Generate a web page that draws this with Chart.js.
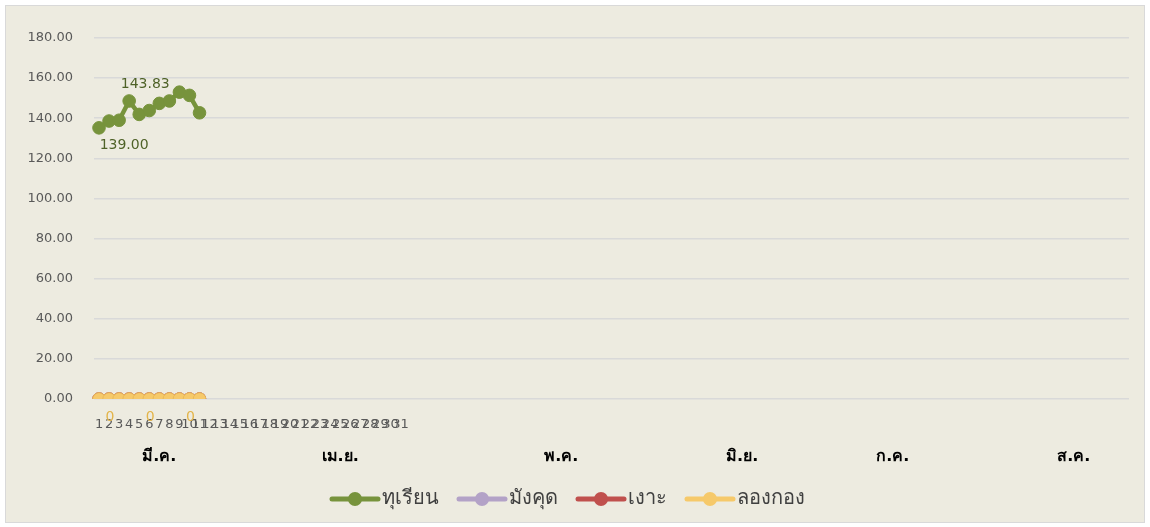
<!DOCTYPE html>
<html>
<head>
<meta charset="utf-8">
<script src="https://cdn.jsdelivr.net/npm/chart.js@4.4.1/dist/chart.umd.min.js"></script>
<style>
  html, body { margin: 0; padding: 0; background: #ffffff; }
  #box {
    position: absolute; left: 5px; top: 5px;
    width: 1138px; height: 516px;
    background: #edebe0; border: 1px solid #d9d9d9;
  }
  #chart01 { display: block; }
</style>
</head>
<body>
<div id="box"><canvas id="chart01" width="1138" height="516"></canvas></div>
<script>
// データ
var totalSlots = 103; // 横軸のカテゴリ数
var dayTicks = ['1','2','3','4','5','6','7','8','9','10','11','12','13','14','15','16',
  '17','18','19','20','21','22','23','24','25','26','27','28','29','30','31'];
var monthTicks = ['มี.ค.', 'เม.ย.', 'พ.ค.', 'มิ.ย.', 'ก.ค.', 'ส.ค.'];
var monthSlots = [6, 24, 46, 64, 79, 97]; // 月ラベルのカテゴリ位置

var seriesNames = ['ทุเรียน', 'มังคุด', 'เงาะ', 'ลองกอง'];
var durian    = [135.2, 138.6, 139.00, 148.6, 141.9, 143.83, 147.4, 148.6, 153.0, 151.4, 142.7];
var mangosteen = [0, 0, 0, 0, 0, 0, 0, 0, 0, 0, 0];
var rambutan   = [0, 0, 0, 0, 0, 0, 0, 0, 0, 0, 0];
var longkong   = [0, 0, 0, 0, 0, 0, 0, 0, 0, 0, 0];
var durianLabelAt = [2, 5];
var longkongLabelAt = [1, 5, 9];

var colors = ['#77933c', '#b3a2c7', '#c0504d', '#f6c96a'];
var fontFamily = '"DejaVu Sans", Tahoma, sans-serif';

var labels = [];
for (var i = 0; i < totalSlots; i++) {
  labels.push(dayTicks[i] || '');
}

// 凡例のマーカー（線＋丸）
var markerW = 42; // 凡例の箱の幅
var markerExtra = 9; // テキストとの隙間を詰める分
function legendMarker(color) {
  var c = document.createElement('canvas');
  c.width = markerW + markerExtra * 2; c.height = 16;
  var g = c.getContext('2d');
  var x0 = markerExtra, x1 = markerW + markerExtra * 2 - 1;
  g.strokeStyle = color; g.lineWidth = 5; g.lineCap = 'round';
  g.beginPath(); g.moveTo(x0 + 2, 8); g.lineTo(x1 - 2, 8); g.stroke();
  g.fillStyle = color;
  g.beginPath(); g.arc((x0 + x1) / 2, 8, 7, 0, Math.PI * 2); g.fill();
  return c;
}

// 値ラベルを描く
Chart.register({
  id: 'valueLabels',
  afterDatasetsDraw: function (chart) {
    var ctx = chart.ctx;
    ctx.save();
    ctx.font = '14px ' + fontFamily;
    ctx.textAlign = 'center';
    ctx.textBaseline = 'middle';
    var m0 = chart.getDatasetMeta(0);
    ctx.fillStyle = '#4f6228';
    durianLabelAt.forEach(function (idx) {
      var p = m0.data[idx];
      var txt = durian[idx].toFixed(2);
      if (idx === 5) {
        ctx.fillText(txt, p.x - 4, p.y - 26);
      } else {
        ctx.fillText(txt, p.x + 5, p.y + 25);
      }
    });
    var m3 = chart.getDatasetMeta(3);
    ctx.fillStyle = '#e3b449';
    longkongLabelAt.forEach(function (idx) {
      var p = m3.data[idx];
      ctx.fillText(String(longkong[idx]), p.x + 1, p.y + 18);
    });
    ctx.restore();
  }
});

function makeSet(i, data, order) {
  return {
    label: seriesNames[i],
    data: data,
    borderColor: colors[i],
    backgroundColor: colors[i],
    pointBackgroundColor: colors[i],
    pointBorderColor: i === 3 ? '#e8b85a' : colors[i],
    pointBorderWidth: 1,
    pointRadius: 6.3,
    pointHoverRadius: 6.3,
    borderWidth: 4.5,
    tension: 0,
    order: order,
    pointStyle: 'circle'
  };
}

var legendImgs = colors.map(legendMarker);

var ctx = document.getElementById('chart01');
var chart = new Chart(ctx, {
  type: 'line',
  data: {
    labels: labels,
    datasets: [
      makeSet(0, durian, 0),
      makeSet(1, mangosteen, 3),
      makeSet(2, rambutan, 2),
      makeSet(3, longkong, 1)
    ]
  },
  options: {
    responsive: false,
    animation: false,
    layout: { padding: { top: 32, right: 15, left: 0, bottom: 3 } },
    plugins: {
      tooltip: { enabled: false },
      legend: {
        position: 'bottom',
        labels: {
          usePointStyle: true,
          pointStyleWidth: markerW,
          boxHeight: 16,
          padding: 18,
          color: '#404040',
          font: { size: 20, family: fontFamily },
          generateLabels: function (chart) {
            return chart.data.datasets.map(function (ds, i) {
              return {
                text: ds.label,
                pointStyle: legendImgs[i],
                fillStyle: colors[i],
                strokeStyle: colors[i],
                lineWidth: 0,
                fontColor: '#404040',
                hidden: false,
                datasetIndex: i
              };
            });
          }
        }
      }
    },
    scales: {
      x: {
        type: 'category',
        offset: true,
        grid: { display: false, drawTicks: false },
        border: { display: false },
        ticks: {
          autoSkip: false, maxRotation: 0, minRotation: 0,
          padding: 18,
          color: '#595959',
          font: { size: 13, family: fontFamily }
        },
        afterFit: function (s) { s.height = 40; }
      },
      x2: {
        type: 'category',
        labels: labels,
        offset: true,
        position: 'bottom',
        grid: { display: false, drawTicks: false },
        border: { display: false },
        ticks: {
          autoSkip: false, maxRotation: 0, minRotation: 0,
          padding: 8,
          color: '#000000',
          font: { size: 16, weight: 'bold', family: fontFamily },
          callback: function (v, idx) {
            var k = monthSlots.indexOf(idx);
            return k >= 0 ? monthTicks[k] : '';
          }
        },
        afterFit: function (s) { s.height = 32; }
      },
      y: {
        min: 0, max: 180,
        grid: { color: '#d9d9d9', lineWidth: 1.5, drawTicks: false },
        border: { display: false },
        ticks: {
          stepSize: 20,
          padding: 21,
          color: '#595959',
          font: { size: 13, family: fontFamily },
          callback: function (v) { return v.toFixed(2); }
        },
        afterFit: function (s) { s.width = 88; }
      }
    }
  }
});
</script>
</body>
</html>
